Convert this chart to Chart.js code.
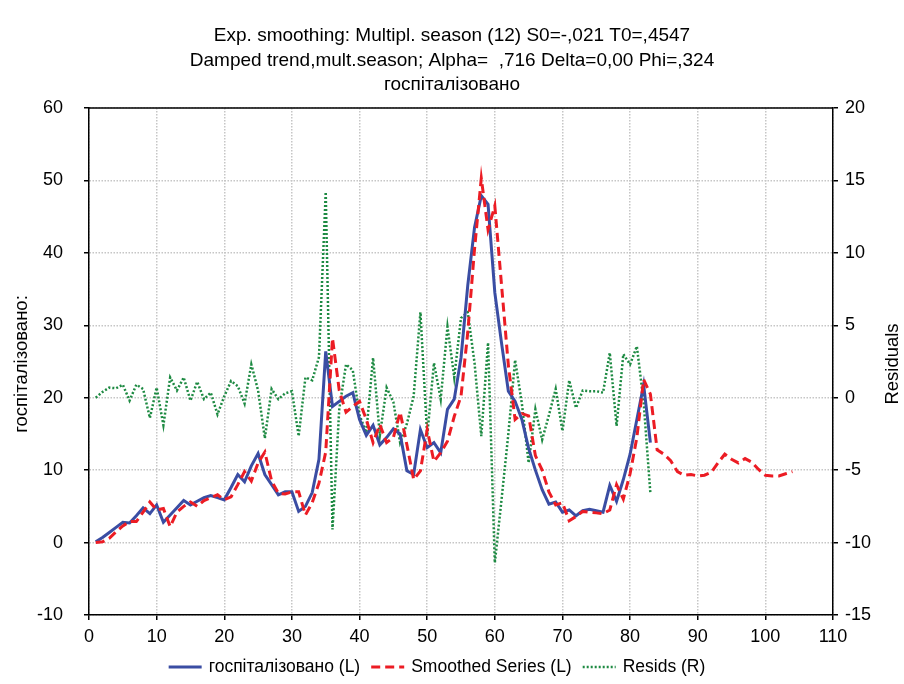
<!DOCTYPE html>
<html>
<head>
<meta charset="utf-8">
<script src="https://cdn.jsdelivr.net/npm/chart.js@4.4.1/dist/chart.umd.min.js"></script>
<style>
  body { margin: 0; background: #ffffff; }
  canvas { display: block; }
</style>
</head>
<body>
<canvas id="smoothChart" width="904" height="684"></canvas>
<script>
// data (x = period number, starting at 1)
const titleLines = [
  'Exp. smoothing: Multipl. season (12) S0=-,021 T0=,4547',
  'Damped trend,mult.season; Alpha=  ,716 Delta=0,00 Phi=,324',
  'госпіталізовано'
];
const seriesNames = ['госпіталізовано (L)', 'Smoothed Series (L)', 'Resids (R)'];
const leftTitle = 'госпіталізовано:';
const rightTitle = 'Residuals';

const hospitalized = [
  0.1, 0.7, 1.4, 2.1, 2.8, 2.7, 3.7, 4.8, 4.0, 5.2,
  2.8, 3.8, 4.8, 5.8, 5.2, 5.7, 6.2, 6.5, 6.2, 5.9,
  7.6, 9.4, 8.4, 10.6, 12.3, 9.4, 8.0, 6.6, 7.0, 7.0,
  4.3, 5.0, 6.9, 11.5, 26.4, 18.8, 19.5, 20.2, 20.7, 17.0,
  14.8, 16.2, 13.5, 14.5, 15.7, 15.0, 9.9, 9.4, 15.6, 13.1,
  13.8, 12.4, 18.4, 19.8, 25.5, 35.5, 43.5, 47.9, 46.7, 34.5,
  27.5, 20.9, 19.5, 17.0, 13.0, 10.0, 7.3, 5.3, 5.6, 4.2,
  4.5, 3.7, 4.4, 4.6, 4.4, 4.2, 7.9, 5.7, 8.7, 12.2,
  17.0, 21.8, 13.8
];

const smoothed = [
  0.0, 0.1, 0.6, 1.5, 2.3, 2.9, 2.9, 4.2, 5.6, 4.5,
  4.7, 2.2, 4.2, 5.0, 5.6, 5.0, 5.8, 6.2, 6.6, 5.9,
  6.3, 8.0, 9.8, 8.5, 11.0, 12.5, 8.5, 6.8, 6.7, 7.0,
  7.0, 3.8, 5.5, 8.2, 12.5, 28.2, 21.0, 18.0, 18.8, 19.5,
  17.0, 13.8, 16.3, 13.8, 14.5, 18.0, 13.5, 8.7, 9.9, 15.6,
  11.2, 12.4, 14.0, 17.4, 20.2, 29.0, 40.5, 50.3, 43.2, 46.5,
  35.5, 24.5, 17.0, 17.8, 17.5, 12.0, 10.0, 7.0, 5.2, 5.5,
  3.0, 3.6, 4.3, 4.2, 4.1, 4.0, 4.5, 8.0, 6.0, 9.5,
  14.5, 22.5, 20.5, 12.8, 12.2, 11.3, 9.8, 9.3, 9.4, 9.2,
  9.3, 9.7, 11.0, 12.2, 11.5, 11.0, 11.6, 11.1, 10.1, 9.3,
  9.2, 9.2, 9.5, 9.8
];

const resids = [
  0.0, 0.4, 0.7, 0.65, 0.9, -0.2, 0.9, 0.6, -1.4, 0.7,
  -1.9, 1.4, 0.5, 1.4, -0.2, 1.1, -0.1, 0.35, -1.15, 0.1,
  1.15, 0.8, -0.4, 2.3, 0.5, -2.8, 0.6, -0.1, 0.3, 0.45,
  -2.65, 1.4, 1.2, 2.8, 14.2, -9.1, -0.8, 2.3, 1.9, -1.2,
  -2.4, 2.75, -2.6, 0.7, -0.3, -3.1, -1.8, 0.1, 5.9, -2.65,
  2.4, -0.1, 4.9, 1.4, 5.5, 5.9, 2.4, -2.65, 3.8, -11.4,
  -7.0, -2.5, 2.6, -0.4, -4.5, -0.8, -2.9, -1.2, 0.6, -2.3,
  1.2, -0.7, 0.5, 0.45, 0.45, 0.35, 3.1, -1.95, 3.0, 2.3,
  3.55, -0.3, -6.6
];

const FONT = "'Liberation Sans', Arial, sans-serif";

function toPoints(arr) {
  return arr.map((v, i) => ({ x: i + 1, y: v }));
}

// white page, black frame on top, titles, rotated axis titles, legend
const decor = {
  id: 'decor',
  beforeDraw(chart) {
    const ctx = chart.ctx;
    ctx.save();
    ctx.fillStyle = '#ffffff';
    ctx.fillRect(0, 0, chart.width, chart.height);
    ctx.restore();
  },
  afterDraw(chart) {
    const ctx = chart.ctx;
    const a = chart.chartArea;
    ctx.save();
    ctx.strokeStyle = '#000';
    ctx.lineWidth = 1.5;
    ctx.beginPath();
    ctx.moveTo(a.left, a.top);
    ctx.lineTo(a.right, a.top);
    ctx.stroke();

    ctx.fillStyle = '#000';
    ctx.font = '19px ' + FONT;
    ctx.textAlign = 'center';
    ctx.textBaseline = 'middle';
    titleLines.forEach((t, i) => ctx.fillText(t, 452, 36 + i * 24.5));

    ctx.font = '18.5px ' + FONT;
    ctx.save();
    ctx.translate(22, 364);
    ctx.rotate(-Math.PI / 2);
    ctx.fillText(leftTitle, 0, 0);
    ctx.restore();
    ctx.save();
    ctx.translate(893, 364);
    ctx.rotate(-Math.PI / 2);
    ctx.fillText(rightTitle, 0, 0);
    ctx.restore();

    // legend
    ctx.font = '17.5px ' + FONT;
    ctx.textAlign = 'left';
    const sample = 33, gap = 7, itemGap = 11;
    const widths = seriesNames.map(n => ctx.measureText(n).width);
    const total = widths.reduce((s, w) => s + sample + gap + w, 0) + itemGap * (seriesNames.length - 1);
    let x = 437 - total / 2;
    const y = 667;
    chart.data.datasets.forEach((ds, i) => {
      ctx.save();
      ctx.strokeStyle = ds.borderColor;
      ctx.lineWidth = ds.borderWidth;
      ctx.setLineDash(ds.borderDash || []);
      ctx.beginPath();
      ctx.moveTo(x, y);
      ctx.lineTo(x + sample, y);
      ctx.stroke();
      ctx.restore();
      ctx.fillText(seriesNames[i], x + sample + gap, y);
      x += sample + gap + widths[i] + itemGap;
    });
    ctx.restore();
  }
};

const tickFont = { family: FONT, size: 18 };
const gridStyle = {
  color: '#c6c6c6',
  lineWidth: 1.5,
  tickColor: '#000',
  tickLength: 5,
  tickWidth: 1.5,
  tickBorderDash: []
};

const ctx = document.getElementById('smoothChart').getContext('2d');
new Chart(ctx, {
  type: 'line',
  data: {
    datasets: [
      {
        label: seriesNames[0],
        data: toPoints(hospitalized),
        borderColor: '#3a4da3',
        borderWidth: 3,
        yAxisID: 'y',
        order: 1
      },
      {
        label: seriesNames[1],
        data: toPoints(smoothed),
        borderColor: '#ec1c24',
        borderWidth: 3,
        borderDash: [9, 5],
        yAxisID: 'y',
        order: 0
      },
      {
        label: seriesNames[2],
        data: toPoints(resids),
        borderColor: '#1d8a42',
        borderWidth: 2.5,
        borderDash: [2, 2],
        yAxisID: 'y1',
        order: 2
      }
    ]
  },
  options: {
    responsive: false,
    animation: false,
    layout: { padding: { top: 108, bottom: 29, left: 0, right: 0 } },
    elements: {
      point: { radius: 0 },
      line: { tension: 0, fill: false, borderJoinStyle: 'miter' }
    },
    plugins: {
      legend: { display: false },
      title: { display: false },
      tooltip: { enabled: false }
    },
    scales: {
      x: {
        type: 'linear',
        min: 0,
        max: 110,
        ticks: { stepSize: 10, color: '#000', font: tickFont, padding: 6, maxRotation: 0 },
        grid: gridStyle,
        border: { color: '#000', width: 1.5, dash: [1.5, 1.5] },
        afterFit: s => { s.height = 40; }
      },
      y: {
        position: 'left',
        min: -10,
        max: 60,
        ticks: { stepSize: 10, color: '#000', font: tickFont, padding: 21 },
        grid: gridStyle,
        border: { color: '#000', width: 1.5, dash: [1.5, 1.5] },
        afterFit: s => { s.width = 89; }
      },
      y1: {
        position: 'right',
        min: -15,
        max: 20,
        ticks: { stepSize: 5, color: '#000', font: tickFont, padding: 7 },
        grid: Object.assign({}, gridStyle, { drawOnChartArea: false }),
        border: { color: '#000', width: 1.5 },
        afterFit: s => { s.width = 71; }
      }
    }
  },
  plugins: [decor]
});
</script>
</body>
</html>
